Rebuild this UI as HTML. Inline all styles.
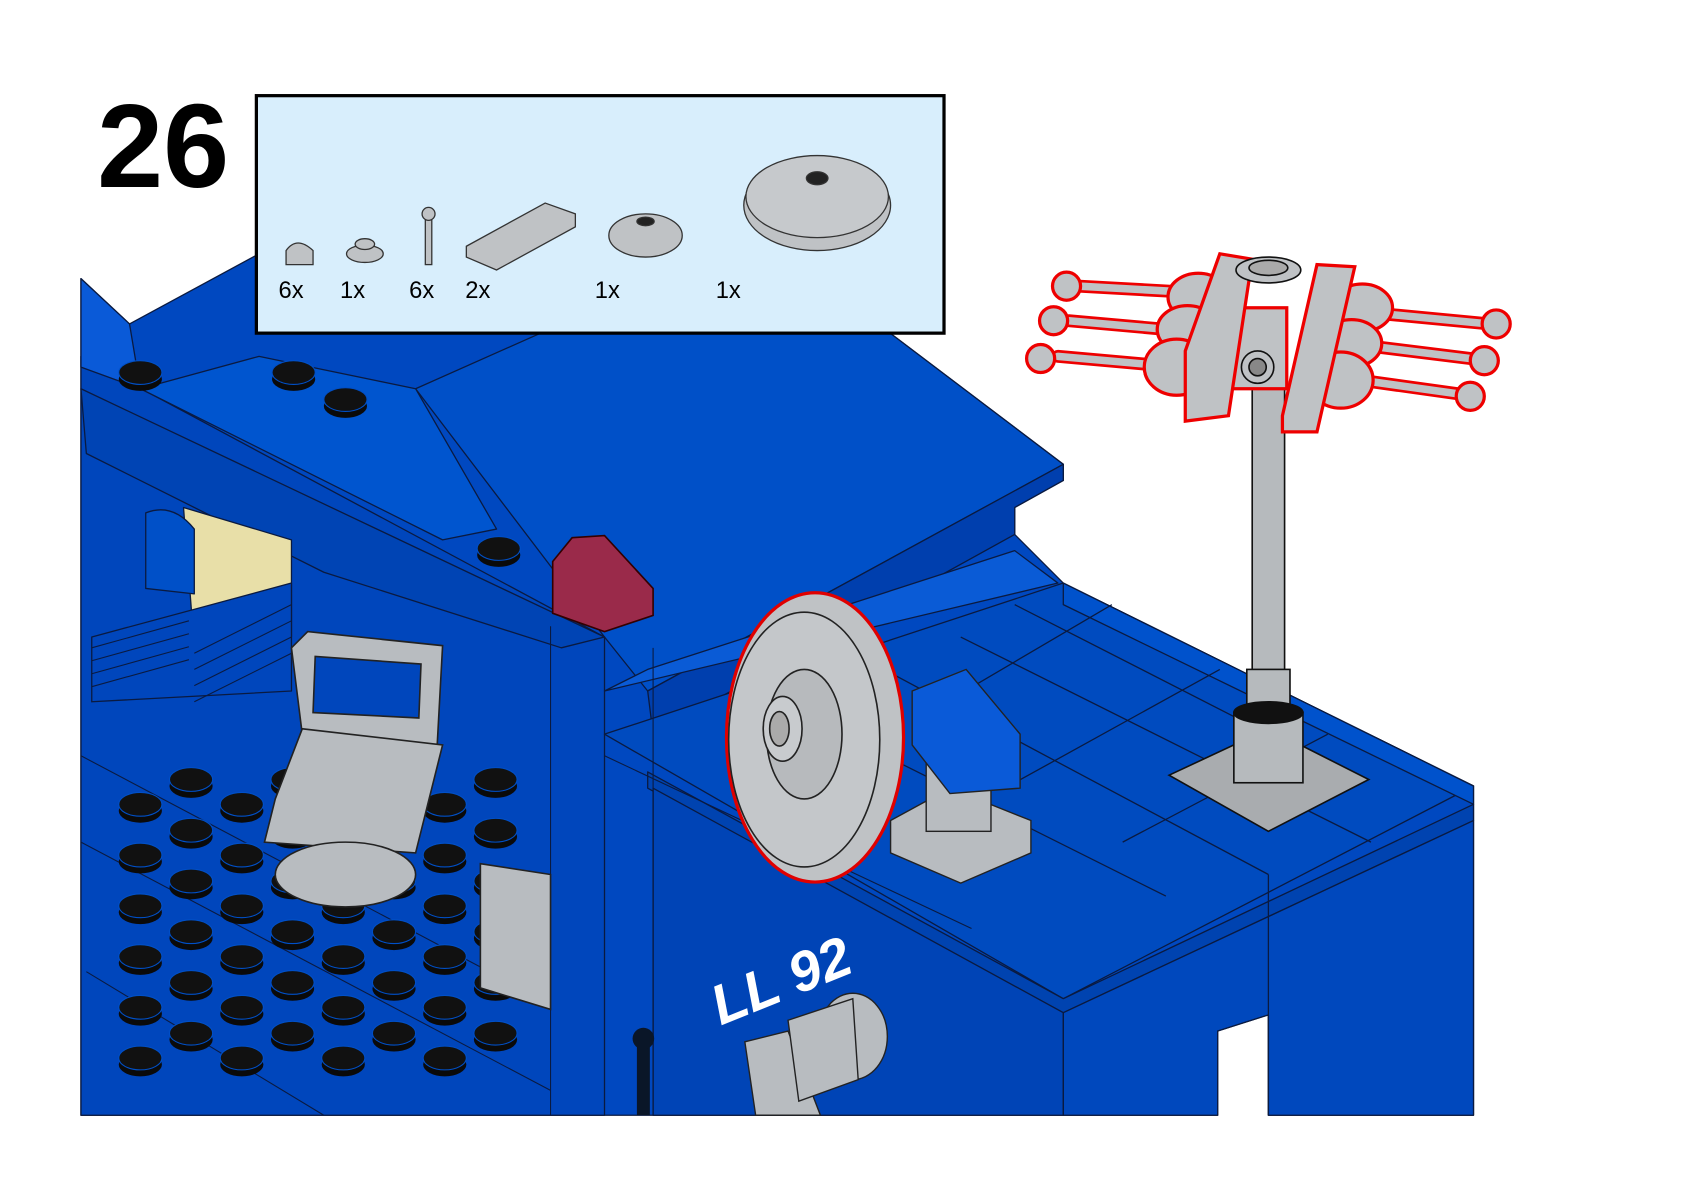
<!DOCTYPE html>
<html><head><meta charset="utf-8"><style>
html,body{margin:0;padding:0;background:#fff;width:1684px;height:1192px;overflow:hidden}
svg{display:block}
</style></head><body>
<svg id="s" width="1684" height="1192" viewBox="0 0 1560 1104" xmlns="http://www.w3.org/2000/svg">
<rect width="1560" height="1104" fill="#fff"/>
<g stroke="#0a1a40" stroke-width="1.2" stroke-linejoin="round">
<!-- main body -->
<path d="M75,258 L120,300 L240,235 L820,305 L985,430 L985,445 L940,470 L940,495 L985,540 L1365,728 L1365,1033 L1175,1033 L1175,940 L1128,955 L1128,1033 L75,1033 Z" fill="#0048c0"/>
<!-- roof top -->
<path d="M385,360 L520,300 L820,305 L985,430 L600,640 L560,590 Z" fill="#0050c8"/>
<path d="M600,640 L985,430 L985,445 L940,470 L940,495 L605,680 Z" fill="#003fae"/>
<!-- left upper wall -->
<path d="M75,330 L560,590 L560,1033 L75,1033 Z" fill="#0046bc"/>
<path d="M75,360 L80,420 L300,530 L520,600 L560,590 Z" fill="#0044b4"/>
<path d="M130,360 L240,330 L385,360 L460,490 L410,500 Z" fill="#0055cf"/>
<path d="M75,258 L120,300 L130,360 L75,340 Z" fill="#0a5ad8"/>
<!-- right deck -->
<path d="M560,680 L985,540 L1365,728 L985,925 Z" fill="#004bbf"/>
<path d="M985,540 L1365,728 L1365,745 L985,560 Z" fill="#0052cc"/>
<path d="M600,715 L985,925 L1365,745 L1365,760 L985,938 L600,730 Z" fill="#0043b0"/>
<path d="M985,938 L1365,760 L1365,1033 L1175,1033 L1175,940 L1128,955 L1128,1033 L985,1033 Z" fill="#0048bd"/>
<path d="M605,730 L985,938 L985,1033 L605,1033 Z" fill="#0044b6"/>
<path d="M560,640 L980,540 L940,510 L600,620 Z" fill="#0a5bd6"/>
<!-- deck grid lines -->
<path d="M700,640 L1080,830 M800,610 L1175,810 M890,590 L1270,780 M940,560 L1175,680 M1030,560 L860,660 M1130,620 L940,725 M1230,680 L1040,780 M985,938 L985,1033 M1175,810 L1175,1033" fill="none"/>
<!-- lights window -->
<path d="M170,470 L270,500 L270,590 L180,600 Z" fill="#e8dfa8"/>
<path d="M135,475 Q160,465 180,490 L180,550 L135,545 Z" fill="#0050c8"/>
<path d="M85,590 L270,540 L270,640 L85,650 Z" fill="#0046bc"/>
</g>
<g stroke="#0a1a40" stroke-width="1" fill="none">
<path d="M85,600 L175,575 M85,612 L175,587 M85,624 L175,599 M85,636 L175,611 M180,605 L270,560 M180,620 L270,575 M180,635 L270,590 M180,650 L270,605"/>
<path d="M75,700 L510,930 M75,780 L510,1010 M80,900 L300,1033 M510,580 L510,1033 M605,600 L605,1033 M560,700 L900,860"/>
</g>
<!-- studs -->
<g id="studs"></g>
<!-- red slope -->
<path d="M512,520 L530,498 L560,496 L605,545 L605,570 L560,585 L512,568 Z" fill="#9a2a4a" stroke="#300" stroke-width="1.5"/>
<!-- chair -->
<g stroke="#222" stroke-width="1.5" fill="#b8bcc0">
<path d="M270,600 L285,585 L410,598 L405,690 L280,680 Z"/>
<path d="M292,608 L390,615 L388,665 L290,660 Z" fill="#0046bc"/>
<path d="M255,740 L280,675 L410,690 L385,790 L245,780 Z"/>
<ellipse cx="320" cy="810" rx="65" ry="30"/>
<path d="M445,800 L510,810 L510,935 L445,915 Z"/>
</g>
<!-- dish -->
<g stroke="#222" stroke-width="1.5">
<ellipse cx="755" cy="683" rx="82" ry="134" fill="#bfc2c5" stroke="#e00000" stroke-width="3"/>
<ellipse cx="745" cy="685" rx="70" ry="118" fill="#c4c7ca"/>
<ellipse cx="745" cy="680" rx="35" ry="60" fill="#b7babd"/>
<ellipse cx="725" cy="675" rx="18" ry="30" fill="#c8cbce"/>
<ellipse cx="722" cy="675" rx="9" ry="16" fill="#aaa"/>
</g>
<!-- small turret -->
<g stroke="#222" stroke-width="1.3">
<path d="M825,760 L880,730 L955,760 L955,790 L890,818 L825,790 Z" fill="#b8bcc0"/>
<rect x="858" y="700" width="60" height="70" fill="#b8bcc0"/>
<path d="M845,640 L895,620 L945,680 L945,730 L880,735 L845,690 Z" fill="#0a5ad8"/>
</g>
<!-- LL text -->
<text x="655" y="935" font-family="Liberation Sans, sans-serif" font-weight="bold" font-style="italic" font-size="52" fill="#fff" transform="rotate(-22 700 910)">LL 92</text>
<!-- spotlight bottom -->
<g stroke="#222" stroke-width="1.3" fill="#b8bcc0">
<path d="M690,965 L730,955 L760,1033 L700,1033 Z"/>
<ellipse cx="790" cy="960" rx="32" ry="40"/>
<path d="M730,945 L790,925 L795,1000 L740,1020 Z"/>
</g>
<rect x="590" y="960" width="12" height="73" fill="#0a1628"/>
<circle cx="596" cy="962" r="10" fill="#0a1628"/>
<!-- antenna -->
<g stroke="#111" stroke-width="1.5">
<path d="M1083,718 L1175,675 L1268,722 L1175,770 Z" fill="#a9acaf"/>
<rect x="1160" y="360" width="30" height="270" fill="#b6babd"/>
<rect x="1155" y="620" width="40" height="35" fill="#b6babd"/>
<rect x="1143" y="660" width="64" height="65" fill="#b6babd"/>
<ellipse cx="1175" cy="660" rx="32" ry="10" fill="#111"/>
</g>
<g stroke="#e00" stroke-width="3" fill="#bfc2c5">
<path d="M1000,265 L1090,270 M990,297 L1080,305 M980,330 L1070,338 M1275,290 L1380,300 M1265,320 L1370,333 M1260,352 L1360,366" stroke-width="12" stroke-linecap="round"/>
<path d="M1000,265 L1090,270 M990,297 L1080,305 M980,330 L1070,338 M1275,290 L1380,300 M1265,320 L1370,333 M1260,352 L1360,366" stroke="#bfc2c5" stroke-width="7" stroke-linecap="round"/>
<circle cx="988" cy="265" r="13"/><circle cx="976" cy="297" r="13"/><circle cx="964" cy="332" r="13"/>
<circle cx="1386" cy="300" r="13"/><circle cx="1375" cy="334" r="13"/><circle cx="1362" cy="367" r="13"/>
<ellipse cx="1110" cy="275" rx="28" ry="22"/><ellipse cx="1100" cy="305" rx="28" ry="22"/><ellipse cx="1090" cy="340" rx="30" ry="26"/>
<ellipse cx="1262" cy="285" rx="28" ry="22"/><ellipse cx="1252" cy="318" rx="28" ry="22"/><ellipse cx="1242" cy="352" rx="30" ry="26"/>
<rect x="1137" y="285" width="55" height="75"/>
<path d="M1098,325 L1130,235 L1160,240 L1138,385 L1098,390 Z"/>
<path d="M1188,385 L1220,245 L1255,247 L1220,400 L1188,400 Z"/>
</g>
<g stroke="#111" stroke-width="1.5" fill="#bfc2c5">
<ellipse cx="1175" cy="250" rx="30" ry="12"/><ellipse cx="1175" cy="248" rx="18" ry="7" fill="#aaa"/>
<circle cx="1165" cy="340" r="15"/><circle cx="1165" cy="340" r="8" fill="#888"/>
</g>
<!-- step number -->
<text x="90" y="173" font-family="Liberation Sans, sans-serif" font-weight="bold" font-size="110" fill="#000">26</text>
<!-- parts box -->
<rect x="237.5" y="88.5" width="637" height="220" fill="#d8eefc" stroke="#000" stroke-width="3"/>
<g stroke="#333" stroke-width="1.2" fill="#bfc2c5">
<path d="M265,245 L265,232 Q275,218 290,232 L290,245 Z"/>
<ellipse cx="338" cy="235" rx="17" ry="8"/><ellipse cx="338" cy="226" rx="9" ry="5"/>
<rect x="394" y="200" width="6" height="45"/><circle cx="397" cy="198" r="6"/>
<path d="M432,228 L505,188 L533,198 L533,210 L460,250 L432,238 Z"/>
<ellipse cx="598" cy="218" rx="34" ry="20"/><ellipse cx="598" cy="205" rx="8" ry="4" fill="#222"/>
<ellipse cx="757" cy="190" rx="68" ry="42"/><ellipse cx="757" cy="182" rx="66" ry="38" fill="#c6c9cc"/><ellipse cx="757" cy="165" rx="10" ry="6" fill="#222"/>
</g>
<g font-family="Liberation Sans, sans-serif" font-size="22" fill="#000">
<text x="258" y="276">6x</text><text x="315" y="276">1x</text><text x="379" y="276">6x</text><text x="431" y="276">2x</text><text x="551" y="276">1x</text><text x="663" y="276">1x</text>
</g>
</svg>
<script>
var g=document.getElementById('studs'),h='';
function st(x,y){h+='<ellipse cx="'+x+'" cy="'+(y+6)+'" rx="20" ry="11" fill="#0a0a0a"/><ellipse cx="'+x+'" cy="'+y+'" rx="20" ry="11" fill="#111" stroke="#0050c8" stroke-width="1"/>';}
for(var i=0;i<9;i++)for(var j=0;j<6;j++){var x=90+i*47+j*0,y=800+i*24-j*48+ (i%2?0:0);x=95+i*47-j*0;y=1010-j*48-i*0;}
for(var a=0;a<8;a++)for(var b=0;b<6;b++){var x=130+a*47+b*0, y=745+b*47+a*0; x=130+(a)*47; y=745+b*47-a*0+ (a*0); if(x<500&&y<1020)st(x-((b*0)),y+ (a%2)*-23+ (a>>1)*0);}
st(130,345);st(272,345);st(320,370);st(462,508);
h+='';
g.innerHTML=h;
</script>
</body></html>
